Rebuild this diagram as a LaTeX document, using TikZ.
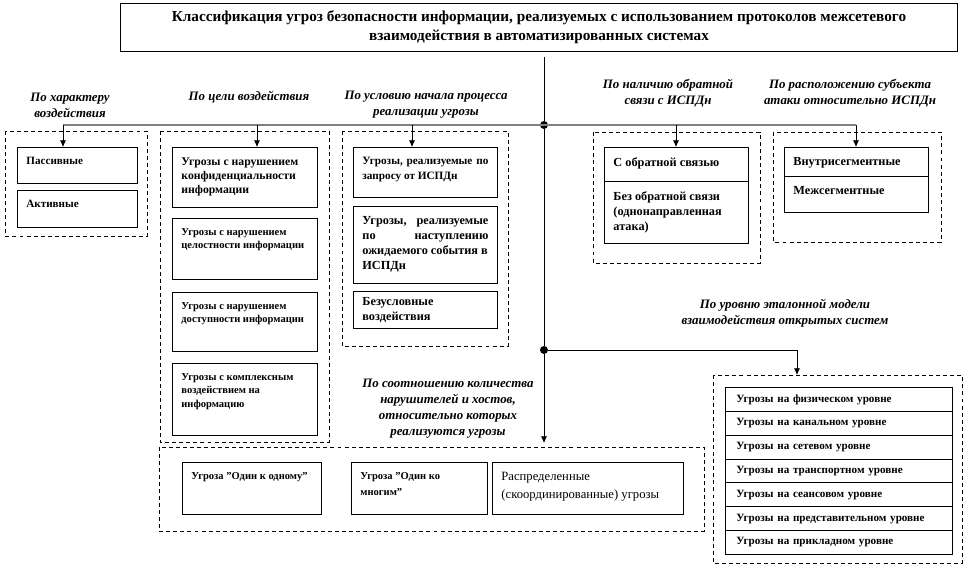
\documentclass[tikz,border=0pt]{standalone}
\usepackage{fontspec}
\setmainfont{Liberation Serif}
\usetikzlibrary{positioning,arrows.meta}

\newlength{\pxu}\setlength{\pxu}{0.03cm}
\newcommand{\cellt}[3]{\parbox[t][\dimexpr#2\pxu-20\pxu\relax][t]{\dimexpr#1\pxu-18\pxu\relax}{\raggedright #3}}
\newcommand{\cellfont}{\bfseries\fontsize{9.5}{12}\selectfont}
\newcommand{\bigcell}{\bfseries\fontsize{10.5}{12.8}\selectfont}
\newcommand{\labfont}{\bfseries\itshape\fontsize{11}{13.7}\selectfont}
\newcommand{\ttlfont}{\bfseries\fontsize{13}{16.2}\selectfont}

\begin{document}
\begin{tikzpicture}[x=0.03cm, y=-0.03cm,
  grp/.style={draw, dash pattern=on 3.4pt off 2.6pt, line width=0.6pt},
  cell/.style={draw, line width=0.7pt, anchor=north west, inner xsep=0.27cm, inner ysep=0.3cm, font=\cellfont},
  row/.style={draw, line width=0.7pt, anchor=north west, minimum height=0.716cm, text width=6.15cm, inner xsep=0.33cm, inner ysep=0pt, align=left, font=\cellfont},
  lab/.style={align=center, font=\labfont},
  arr/.style={-{Latex[length=2mm,width=1.8mm]}, line width=0.6pt},
  dot/.style={circle, fill, inner sep=0pt, minimum size=0.24cm}]
\useasboundingbox (0,0) rectangle (965,568);

\node[draw, line width=0.8pt, anchor=north west, minimum width=25.11cm, minimum height=1.44cm, align=center, font=\ttlfont] (ttl) at (120,3)
  {Классификация угроз безопасности информации, реализуемых с использованием протоколов межсетевого\\взаимодействия в автоматизированных системах};

% headings
\node[lab] (h1) at (70,105) {По характеру\\воздействия};
\node[lab] (h2) at (249,97) {По цели воздействия};
\node[lab] (h3) at (426,105) {По условию начала процесса\\реализации угрозы};
\node[lab] (h4) at (668,93) {По наличию обратной\\связи с ИСПДн};
\node[lab] (h5) at (850,93) {По расположению субъекта\\атаки относительно ИСПДн};
\node[lab] (h6) at (785,313) {По уровню эталонной модели\\взаимодействия открытых систем};
\node[lab] (h7) at (448,409) {По соотношению количества\\нарушителей и хостов,\\относительно которых\\реализуются угрозы};

% dashed groups
\draw[grp] (5,131) rectangle (147,236);
\draw[grp] (160,131) rectangle (329,442);
\draw[grp] (342,131) rectangle (508,346);
\draw[grp] (593,132) rectangle (760,263);
\draw[grp] (773,132) rectangle (941,242);
\draw[grp] (713,375) rectangle (962,563);
\draw[grp] (159,447) rectangle (704,531);

% boxes
\node[cell] (pas) at (17,147) {\cellt{120}{36}{Пассивные}};
\node[cell] (akt) at (17,190) {\cellt{120}{37}{Активные}};

\node[cell, font=\bfseries\fontsize{10}{12}\selectfont] (c1) at (172,147) {\cellt{145}{60}{Угрозы с нарушением\\конфиденциальности\\информации}};
\node[cell, font=\bfseries\fontsize{9}{11.3}\selectfont] (c2) at (172,218) {\cellt{145}{61}{Угрозы с нарушением\\целостности информации}};
\node[cell, font=\bfseries\fontsize{9}{11.3}\selectfont] (c3) at (172,292) {\cellt{145}{59}{Угрозы с нарушением\\доступности информации}};
\node[cell, font=\bfseries\fontsize{9}{11.5}\selectfont] (c4) at (172,363) {\cellt{145}{72}{Угрозы с комплексным\\воздействием на\\информацию}};

\node[cell, font=\bfseries\fontsize{9.6}{12.8}\selectfont] (s1) at (353,147) {\cellt{144}{50}{Угрозы, \hfill реализуемые \hfill по\\запросу от ИСПДн}};
\node[cell, font=\bigcell] (s2) at (353,206) {\cellt{144}{77}{Угрозы, \hfill реализуемые\\по \hfill наступлению\\ожидаемого события в\\ИСПДн}};
\node[cell, font=\bigcell, text width=3.78cm, align=left, minimum height=1.11cm, inner ysep=0.05cm] (s3) at (353,291) {Безусловные\\воздействия};

\node[cell, font=\bigcell] (o1) at (604,147) {\cellt{144}{34}{С обратной связью}};
\node[cell, font=\bigcell] (o2) at (604,181) {\cellt{144}{62}{Без обратной связи\\(однонаправленная\\атака)}};

\node[cell, font=\bigcell] (m1) at (784,147) {\cellt{144}{29}{Внутрисегментные}};
\node[cell, font=\bigcell] (m2) at (784,176) {\cellt{144}{36}{Межсегментные}};

\node[row] (l1) at (725,387) {Угрозы на физическом уровне};
\node[row] (l2) at (725,410.86) {Угрозы на канальном уровне};
\node[row] (l3) at (725,434.71) {Угрозы на сетевом уровне};
\node[row] (l4) at (725,458.57) {Угрозы на транспортном уровне};
\node[row] (l5) at (725,482.43) {Угрозы на сеансовом уровне};
\node[row] (l6) at (725,506.29) {Угрозы на представительном уровне};
\node[row] (l7) at (725,530.14) {Угрозы на прикладном уровне};

\node[cell, font=\bfseries\fontsize{9}{13.5}\selectfont] (u1) at (182,462) {\cellt{139}{52}{Угроза "Один к одному"}};
\node[cell, font=\bfseries\fontsize{9}{13.5}\selectfont] (u2) at (351,462) {\cellt{136}{52}{Угроза "Один ко\\многим"}};
\node[cell, font=\fontsize{10.8}{15.4}\selectfont] (u3) at (492,462) {\cellt{191}{52}{Распределенные\\(скоординированные) угрозы}};

% bus and trunk
\coordinate (trunk) at (544,57);
\node[dot] (j1) at (544,125) {};
\node[dot] (j2) at (544,350) {};
\coordinate (b1) at (63,125);
\coordinate (b2) at (257,125);
\coordinate (b3) at (412,125);
\coordinate (b4) at (676,125);
\coordinate (b5) at (856,125);
\coordinate (k6) at (797,350);
\coordinate (g6) at (797,375);
\coordinate (g7) at (544,443);

\draw[gray, line width=1.3pt] (b1) -- (b5);
\draw[line width=0.6pt] (trunk) -- (j1) -- (j2);
\draw[arr] (j2) -- (g7);
\draw[arr] (j2) -- (k6) -- (g6);
\draw[arr] (b1) -- (pas.north -| b1);
\draw[arr] (b2) -- (c1.north -| b2);
\draw[arr] (b3) -- (s1.north -| b3);
\draw[arr] (b4) -- (o1.north -| b4);
\draw[arr] (b5) -- (m1.north -| b5);
\end{tikzpicture}
\end{document}
